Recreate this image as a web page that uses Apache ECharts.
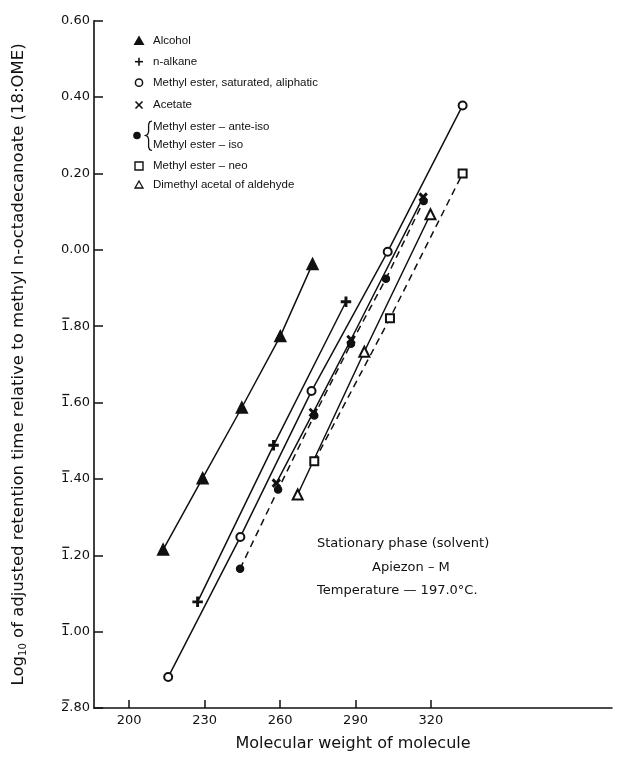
<!DOCTYPE html>
<html>
<head>
<meta charset="utf-8">
<script src="https://cdn.jsdelivr.net/npm/echarts@6/dist/echarts.min.js"></script>
<style>
html,body{margin:0;padding:0;background:#fff;}
#chart{width:629px;height:757px;}
</style>
</head>
<body>
<div id="chart"></div>
<script>
// ---------- data (molecular weight, log10 relative retention) ----------
const alcoholMW   = [213.5, 229.2, 244.8, 260.1, 272.9];
const alcoholLog  = [-0.785, -0.598, -0.413, -0.226, -0.037];

const alkaneMW    = [227.2, 257.4, 286.2];
const alkaneLog   = [-0.922, -0.512, -0.136];

const esterMW     = [215.5, 244.2, 272.5, 302.8, 332.6];
const esterLog    = [-1.119, -0.752, -0.370, -0.005, 0.378];

const acetateMW   = [258.5, 273.2, 288.2, 316.9];
const acetateLog  = [-0.611, -0.426, -0.235, 0.138];

const anteisoMW   = [244.1, 259.2, 273.6, 288.2, 302.1, 317.1];
const anteisoLog  = [-0.835, -0.628, -0.434, -0.246, -0.076, 0.128];

const neoMW       = [273.6, 303.7, 332.6];
const neoLog      = [-0.554, -0.179, 0.200];

const acetalMW    = [267.0, 293.5, 319.8];
const acetalLog   = [-0.641, -0.267, 0.093];

// ---------- axes ----------
const xTicks = [200, 230, 260, 290, 320];
const yTickValues = [-1.2, -1.0, -0.8, -0.6, -0.4, -0.2, 0.0, 0.2, 0.4, 0.6];
// characteristic with a bar (negative characteristic) is written as digit + '\u0304'
const yTickLabels = ['2\u0304.80', '1\u0304.00', '1\u0304.20', '1\u0304.40', '1\u0304.60', '1\u0304.80', '0.00', '0.20', '0.40', '0.60'];

const xTitle = 'Molecular weight of molecule';
const yTitleParts = ['Log', '10', ' of adjusted retention time relative to methyl n-octadecanoate (18:OME)'];

const legendLabels = [
  'Alcohol',
  'n-alkane',
  'Methyl ester, saturated, aliphatic',
  'Acetate',
  'Methyl ester \u2013 ante-iso',
  'Methyl ester \u2013 iso',
  'Methyl ester \u2013 neo',
  'Dimethyl acetal of aldehyde'
];
const noteLines = ['Stationary phase (solvent)', 'Apiezon \u2013 M', 'Temperature \u2014 197.0\u00B0C.'];

function pairs(xs, ys) { return xs.map((x, i) => [x, ys[i]]); }

const INK = '#111';
const FONT = 'DejaVu Sans';
const plusPath = 'path://M4.2,0H5.8V4.2H10V5.8H5.8V10H4.2V5.8H0V4.2H4.2Z';

function lineSeries(name, xs, ys, symbol, size, dashed, extra) {
  return Object.assign({
    name: name,
    type: 'line',
    data: pairs(xs, ys),
    symbol: symbol,
    symbolSize: size,
    showSymbol: true,
    lineStyle: { color: INK, width: 1.5, type: dashed ? [7, 5] : 'solid' },
    itemStyle: { color: INK, borderColor: INK, borderWidth: 1.5 },
    emphasis: { disabled: true },
    z: 3
  }, extra || {});
}

// y label: bar over the characteristic digit, drawn as a rich segment above it
function yLabel(v) {
  const i = yTickValues.findIndex(t => Math.abs(t - v) < 1e-6);
  if (i < 0) return '';
  const lab = yTickLabels[i];
  if (lab.charAt(1) === '\u0304') {
    const d = lab.charAt(0), rest = lab.slice(2);
    return '{bar| }{h|' + rest + '}\n{d|' + d + rest + '}\n{e| }';
  }
  return '{d|' + lab + '}';
}

const chart = echarts.init(document.getElementById('chart'), null, { renderer: 'canvas' });

const legendX = 139, textX = 153;
const rowY = [40.7, 61.7, 82.7, 105, 127.3, 145, 166, 185];
const gfx = [];
// legend markers
gfx.push({ type: 'polygon', shape: { points: [[legendX, 35.5], [legendX + 5.5, 45], [legendX - 5.5, 45]] }, style: { fill: INK } });
gfx.push({ type: 'line', shape: { x1: legendX - 4, y1: rowY[1], x2: legendX + 4, y2: rowY[1] }, style: { stroke: INK, lineWidth: 1.6 } });
gfx.push({ type: 'line', shape: { x1: legendX, y1: rowY[1] - 4, x2: legendX, y2: rowY[1] + 4 }, style: { stroke: INK, lineWidth: 1.6 } });
gfx.push({ type: 'circle', shape: { cx: legendX, cy: rowY[2], r: 3.6 }, style: { fill: '#fff', stroke: INK, lineWidth: 1.5 } });
gfx.push({ type: 'line', shape: { x1: legendX - 3.5, y1: rowY[3] - 3.5, x2: legendX + 3.5, y2: rowY[3] + 3.5 }, style: { stroke: INK, lineWidth: 1.6 } });
gfx.push({ type: 'line', shape: { x1: legendX - 3.5, y1: rowY[3] + 3.5, x2: legendX + 3.5, y2: rowY[3] - 3.5 }, style: { stroke: INK, lineWidth: 1.6 } });
gfx.push({ type: 'circle', shape: { cx: 137, cy: 135.5, r: 3.8 }, style: { fill: INK } });
gfx.push({ type: 'polyline', shape: { points: [[152, 121], [149.7, 121.8], [148.6, 124.5], [148.6, 132], [147.6, 134.6], [145.5, 135.5], [147.6, 136.4], [148.6, 139], [148.6, 147], [149.7, 149.7], [152, 150.5]] }, style: { fill: null, stroke: INK, lineWidth: 1.3 } });
gfx.push({ type: 'rect', shape: { x: legendX - 4, y: rowY[6] - 4, width: 8, height: 8 }, style: { fill: '#fff', stroke: INK, lineWidth: 1.4 } });
gfx.push({ type: 'polygon', shape: { points: [[legendX, rowY[7] - 4], [legendX + 4, rowY[7] + 3], [legendX - 4, rowY[7] + 3]] }, style: { fill: '#fff', stroke: INK, lineWidth: 1.3 } });
legendLabels.forEach((t, i) => {
  gfx.push({ type: 'text', x: textX, y: rowY[i], style: { text: t, font: '11.5px "Liberation Sans"', fill: INK, align: 'left', verticalAlign: 'middle' } });
});
// annotation
gfx.push({ type: 'text', x: 317, y: 543.5, style: { text: noteLines[0], font: '13px "DejaVu Sans"', fill: INK, align: 'left', verticalAlign: 'middle' } });
gfx.push({ type: 'text', x: 372, y: 567.5, style: { text: noteLines[1], font: '13px "DejaVu Sans"', fill: INK, align: 'left', verticalAlign: 'middle' } });
gfx.push({ type: 'text', x: 317, y: 590.5, style: { text: noteLines[2], font: '13px "DejaVu Sans"', fill: INK, align: 'left', verticalAlign: 'middle' } });

const option = {
  animation: false,
  backgroundColor: '#fff',
  textStyle: { fontFamily: FONT, color: INK },
  grid: { left: 94, right: 17, top: 20.7, bottom: 46.3, containLabel: false },
  xAxis: {
    type: 'value',
    min: 186,
    max: 392,
    name: xTitle,
    nameLocation: 'middle',
    nameGap: 28,
    nameTextStyle: { fontFamily: FONT, fontSize: 16, color: INK },
    axisLine: { show: true, onZero: false, lineStyle: { color: INK, width: 1.5 } },
    axisTick: { show: true, inside: true, length: 8, customValues: xTicks, lineStyle: { color: INK, width: 1.5 } },
    axisLabel: { customValues: xTicks, fontFamily: FONT, fontSize: 13, color: INK, margin: 6 },
    splitLine: { show: false }
  },
  yAxis: {
    type: 'value',
    min: -1.2,
    max: 0.6,
    interval: 0.2,
    name: '{t|' + yTitleParts[0] + '}{s|' + yTitleParts[1] + '}{t|' + yTitleParts[2] + '}',
    nameLocation: 'middle',
    nameRotate: 90,
    nameGap: 66,
    nameTextStyle: {
      rich: {
        t: { fontFamily: FONT, fontSize: 16.5, color: INK },
        s: { fontFamily: FONT, fontSize: 10, color: INK, verticalAlign: 'bottom', padding: [8, 0, 0, 0] }
      }
    },
    axisLine: { show: true, onZero: false, lineStyle: { color: INK, width: 1.6 } },
    axisTick: { show: true, inside: true, length: 9, lineStyle: { color: INK, width: 1.5 } },
    axisLabel: {
      fontFamily: FONT, fontSize: 13, color: INK, margin: 4,
      formatter: yLabel,
      rich: {
        d: { fontFamily: FONT, fontSize: 13, color: INK, lineHeight: 13 },
        h: { fontFamily: FONT, fontSize: 13, color: 'rgba(0,0,0,0)', lineHeight: 3, height: 3 },
        bar: { backgroundColor: INK, width: 7, height: 1.3, lineHeight: 3, fontSize: 1 },
        e: { fontSize: 1, lineHeight: 3, height: 3 }
      }
    },
    splitLine: { show: false }
  },
  series: [
    lineSeries('Alcohol', alcoholMW, alcoholLog, 'triangle', 11, false),
    lineSeries('n-alkane', alkaneMW, alkaneLog, plusPath, 9, false),
    lineSeries('Methyl ester, saturated', esterMW, esterLog, 'emptyCircle', 8, false),
    lineSeries('Acetate', acetateMW, acetateLog, plusPath, 9, false, { symbolRotate: 45 }),
    lineSeries('Methyl ester ante-iso / iso', anteisoMW, anteisoLog, 'circle', 7, true),
    lineSeries('Methyl ester neo', neoMW, neoLog, 'emptyRect', 8, true),
    lineSeries('Dimethyl acetal', acetalMW, acetalLog, 'emptyTriangle', 10, false)
  ],
  graphic: gfx
};
chart.setOption(option);
</script>
</body>
</html>
